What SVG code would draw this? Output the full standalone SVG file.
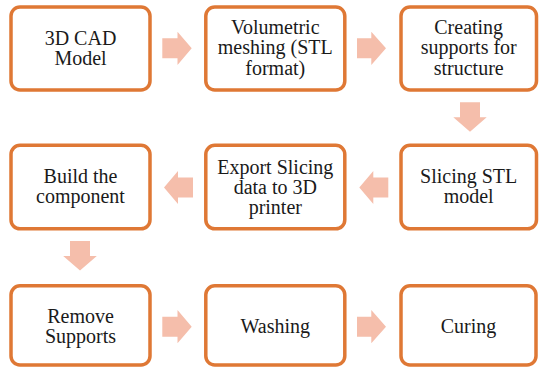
<svg xmlns="http://www.w3.org/2000/svg" width="539" height="368" viewBox="0 0 539 368">
<style>
.box{fill:#FFFFFF;stroke:#DF7835;stroke-width:3.5}
.arr{fill:#F5BEAB;stroke:none}
.t{font-family:'Liberation Serif','Times New Roman','DejaVu Serif',serif;font-size:20px;fill:#1A1A1A;text-anchor:middle}
</style>
<rect width="539" height="368" fill="#FFFFFF"/>
<g id="connectors">
<path class="arr" d="M162.3,38.3 H177.5 V31.7 L191.7,48.3 L177.5,65 V58.3 H162.3 Z"/>
<path class="arr" d="M357,38.3 H371.3 V31.7 L386,48.3 L371.3,65 V58.3 H357 Z"/>
<path class="arr" d="M460,102.3 H480 V117.3 H486.7 L470,131.7 L453.3,117.3 H460 Z"/>
<path class="arr" d="M388.3,177.5 H373.3 V171 L359.3,187.5 L373.3,204 V197.5 H388.3 Z"/>
<path class="arr" d="M193,177.5 H178 V171 L164,187.5 L178,204 V197.5 H193 Z"/>
<path class="arr" d="M70,241 H90 V256 H96.8 L80,270.5 L63.2,256 H70 Z"/>
<path class="arr" d="M162.3,316.7 H177.5 V310 L191.7,326.7 L177.5,343.3 V336.7 H162.3 Z"/>
<path class="arr" d="M357,316.7 H371.3 V310 L386,326.7 L371.3,343.3 V336.7 H357 Z"/>
</g>
<g class="t" font-family="Liberation Serif, serif">
<g id="n1"><rect class="box" x="11" y="7" width="139" height="83" rx="9"/><text x="80.5" y="45">3D CAD</text><text x="80.5" y="65">Model</text></g>
<g id="n2"><rect class="box" x="205.8" y="7" width="139" height="83" rx="9"/><text x="275.3" y="33.5">Volumetric</text><text x="275.3" y="54">meshing (STL</text><text x="275.3" y="74.5">format)</text></g>
<g id="n3"><rect class="box" x="401" y="7" width="135.5" height="83" rx="9"/><text x="468.7" y="33.5">Creating</text><text x="468.7" y="54">supports for</text><text x="468.7" y="74.5">structure</text></g>
<g id="n4"><rect class="box" x="401" y="145.3" width="135.5" height="83.5" rx="9"/><text x="468.7" y="183.3">Slicing STL</text><text x="468.7" y="203.3">model</text></g>
<g id="n5"><rect class="box" x="205.8" y="145.3" width="139" height="83.5" rx="9"/><text x="275.3" y="173.5">Export Slicing</text><text x="275.3" y="194">data to 3D</text><text x="275.3" y="214">printer</text></g>
<g id="n6"><rect class="box" x="11" y="145.3" width="139" height="83.5" rx="9"/><text x="80.5" y="183.3">Build the</text><text x="80.5" y="203.3">component</text></g>
<g id="n7"><rect class="box" x="11" y="285.8" width="139" height="79.2" rx="9"/><text x="80.5" y="323">Remove</text><text x="80.5" y="343">Supports</text></g>
<g id="n8"><rect class="box" x="205.8" y="285.8" width="139" height="79.2" rx="9"/><text x="275.3" y="333.3">Washing</text></g>
<g id="n9"><rect class="box" x="401" y="285.8" width="135" height="79.2" rx="9"/><text x="468.5" y="333.3">Curing</text></g>
</g>
</svg>
